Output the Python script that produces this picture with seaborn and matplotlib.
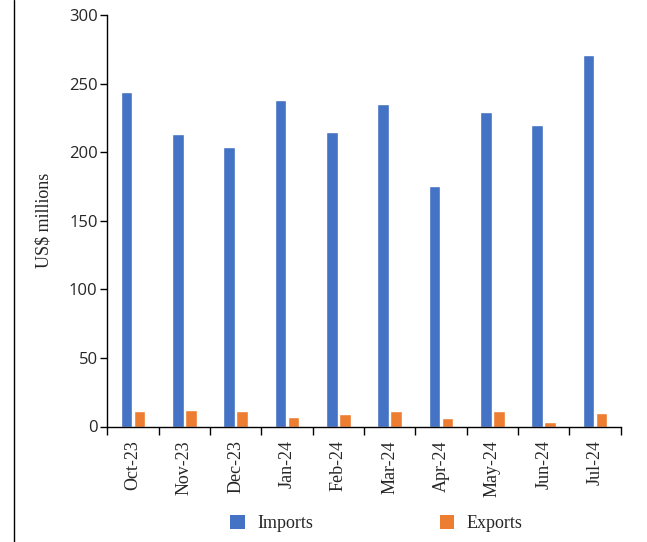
import numpy as np
import pandas as pd
import matplotlib
matplotlib.use("Agg")
import matplotlib.pyplot as plt
from matplotlib.lines import Line2D
from matplotlib.patches import Patch
import seaborn as sns

months = ["Oct-23", "Nov-23", "Dec-23", "Jan-24", "Feb-24",
          "Mar-24", "Apr-24", "May-24", "Jun-24", "Jul-24"]
imports = [244, 213, 204, 238, 215, 235, 175, 229, 220, 271]
exports = [11, 12, 11, 7, 9, 11, 6, 11, 3.5, 9.5]
yticks = [0, 50, 100, 150, 200, 250, 300]

series_names = ["Imports", "Exports"]
colors = ["#4472C4", "#ED7D31"]

df = pd.DataFrame({
    "Month": months * 2,
    "Value": imports + exports,
    "Series": ["Imports"] * len(months) + ["Exports"] * len(months),
})

sns.set_theme(style="white")
serif = ["Liberation Serif", "DejaVu Serif"]
sans = ["Open Sans", "DejaVu Sans"]

fig = plt.figure(figsize=(6.47, 5.42), dpi=100)
ax = fig.add_axes([107.3 / 647, 1 - 426.5 / 542, (620.7 - 107.3) / 647, (426.5 - 15) / 542])

sns.barplot(data=df, x="Month", y="Value", hue="Series", order=months,
            hue_order=series_names, palette=colors, width=0.51, gap=0.1,
            saturation=1, legend=False, ax=ax)

ax.set_xlim(-0.5, len(months) - 0.5)
ax.set_ylim(0, 300)
ax.set_yticks(yticks)
ax.set_yticklabels([str(v) for v in yticks], fontfamily=sans, fontsize=12)
ax.tick_params(axis="y", length=5, width=1, color="black", pad=2, direction="out", left=True)

# category boundary ticks below the axis, labels at the category centres
ax.set_xticks(np.arange(-0.5, len(months), 1.0))
ax.set_xticklabels([])
ax.tick_params(axis="x", which="major", length=6, width=1, color="black", direction="out", bottom=True)
ax.set_xticks(np.arange(len(months)), minor=True)
ax.set_xticklabels(months, minor=True, rotation=90, fontfamily=serif, fontsize=13)
ax.tick_params(axis="x", which="minor", length=0, pad=10)

ax.set_xlabel("")
ax.set_ylabel("US$ millions", fontfamily=serif, fontsize=13, labelpad=12)

for side in ["top", "right"]:
    ax.spines[side].set_visible(False)
for side in ["left", "bottom"]:
    ax.spines[side].set_color("black")
    ax.spines[side].set_linewidth(1)

handles = [Patch(facecolor=c, edgecolor="none") for c in colors]
leg = fig.legend(handles, series_names, loc="center", bbox_to_anchor=(0.582, 0.034),
                 ncol=2, frameon=False, columnspacing=7.0, handlelength=0.8,
                 handleheight=0.8, handletextpad=0.7,
                 prop={"family": serif, "size": 13})

# frame line down the left edge of the figure
fig.add_artist(Line2D([13.5 / 647, 13.5 / 647], [0, 1], transform=fig.transFigure,
                      color="black", linewidth=1))

fig.savefig("out.png", dpi=100)
